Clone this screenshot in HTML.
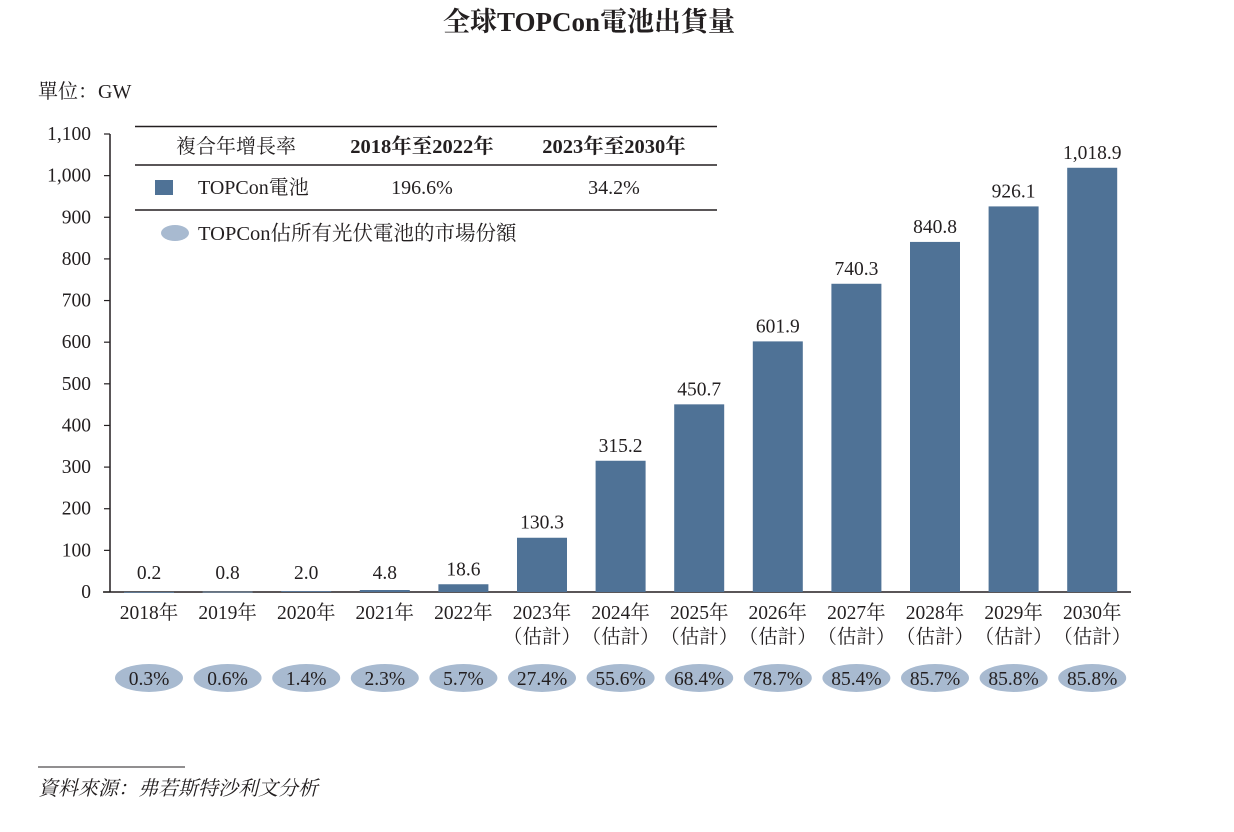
<!DOCTYPE html>
<html><head><meta charset="utf-8"><style>
body{margin:0;background:#fff;}
svg text{font-family:"Liberation Serif","Noto Serif CJK SC","Noto Sans CJK TC",serif;fill:#231f20;}
</style></head><body>
<svg id="chart" width="1234" height="827" viewBox="0 0 1234 827" xmlns="http://www.w3.org/2000/svg">
<text x="589" y="31" text-anchor="middle" font-size="27" font-weight="bold">全球TOPCon電池出貨量</text>
<text x="38" y="98" font-size="20">單位<tspan font-family="Noto Serif CJK SC">：</tspan>GW</text>
<g>
<line x1="135" y1="126.5" x2="717" y2="126.5" stroke="#231f20" stroke-width="1.5"/>
<line x1="135" y1="165" x2="717" y2="165" stroke="#231f20" stroke-width="1.5"/>
<line x1="135" y1="210" x2="717" y2="210" stroke="#231f20" stroke-width="1.5"/>
<text x="236" y="153" text-anchor="middle" font-size="20">複合年增長率</text>
<text x="422" y="153" text-anchor="middle" font-size="20.5" font-weight="bold">2018年至2022年</text>
<text x="614" y="153" text-anchor="middle" font-size="20.5" font-weight="bold">2023年至2030年</text>
<rect x="155" y="180" width="18" height="15" fill="#4f7296"/>
<text x="198" y="194" font-size="20">TOPCon電池</text>
<text x="422" y="194" text-anchor="middle" font-size="20">196.6%</text>
<text x="614" y="194" text-anchor="middle" font-size="20">34.2%</text>
<ellipse cx="175" cy="233" rx="14" ry="8" fill="#a8bad0"/>
<text x="198" y="240" font-size="20.5">TOPCon佔所有光伏電池的市場份額</text>
</g>
<g id="axes"></g>
<g id="bars"></g>
<line x1="38" y1="767" x2="185" y2="767" stroke="#231f20" stroke-width="1"/>
<text x="38" y="795" font-size="20" font-style="italic">資料來源<tspan font-family="Noto Serif CJK SC">：</tspan>弗若斯特沙利文分析</text>
</svg>
<script>
const categories=["2018年","2019年","2020年","2021年","2022年","2023年","2024年","2025年","2026年","2027年","2028年","2029年","2030年"];
const estimated=[false,false,false,false,false,true,true,true,true,true,true,true,true];
const values=[0.2,0.8,2.0,4.8,18.6,130.3,315.2,450.7,601.9,740.3,840.8,926.1,1018.9];
const valueLabels=["0.2","0.8","2.0","4.8","18.6","130.3","315.2","450.7","601.9","740.3","840.8","926.1","1,018.9"];
const shares=["0.3%","0.6%","1.4%","2.3%","5.7%","27.4%","55.6%","68.4%","78.7%","85.4%","85.7%","85.8%","85.8%"];
const yTicks=[0,100,200,300,400,500,600,700,800,900,1000,1100];
const yTickLabels=["0","100","200","300","400","500","600","700","800","900","1,000","1,100"];
const NS="http://www.w3.org/2000/svg";
const y0=592,yTop=134,yMax=1100;
const yScale=v=>y0-(v/yMax)*(y0-yTop);
const xStart=149,xStep=78.6;
const xScale=i=>xStart+i*xStep;
const barW=50;
function mk(tag,attrs,parent,text){const e=document.createElementNS(NS,tag);for(const k in attrs)e.setAttribute(k,attrs[k]);if(text!==undefined)e.textContent=text;parent.appendChild(e);return e;}
const axes=document.getElementById('axes'),bars=document.getElementById('bars');
let a=mk('line',{x1:110,y1:yScale(yMax),x2:110,y2:y0,stroke:'#231f20','stroke-width':1.5},axes);


a=mk('line',{x1:103,y1:y0,x2:1131,y2:y0,stroke:'#231f20','stroke-width':1.5},axes);


yTicks.forEach((t,i)=>{
  const y=yScale(t);
  const tk=mk('line',{x1:104,y1:y,x2:110,y2:y,stroke:'#231f20','stroke-width':1.2},axes);
  
  
  const lb=mk('text',{x:91,y:y+6,'text-anchor':'end','font-size':19.5},axes,yTickLabels[i]);
  
  
});
values.forEach((v,i)=>{
  const cx=xScale(i),y=yScale(v);
  const r=mk('rect',{x:cx-barW/2,y:y,width:barW,height:Math.max(y0-y,0.8),fill:'#4f7296'},bars);
  
  
  const vl=mk('text',{x:cx,y:Math.min(y,y0-4)-9,'text-anchor':'middle','font-size':19.5},bars,valueLabels[i]);
  
  
  const cl=mk('text',{x:cx,y:619,'text-anchor':'middle','font-size':19.5},bars,categories[i]);
  
  
  if(estimated[i]){
    const el=mk('text',{x:cx,y:643,'text-anchor':'middle','font-size':19.5},bars,'（估計）');
    
    
  }
  const e=mk('ellipse',{cx:cx,cy:678,rx:34,ry:14,fill:'#a8bad0'},bars);
  
  
  const st=mk('text',{x:cx,y:685,'text-anchor':'middle','font-size':19.5},bars,shares[i]);
  
  
});
</script>
</body></html>
